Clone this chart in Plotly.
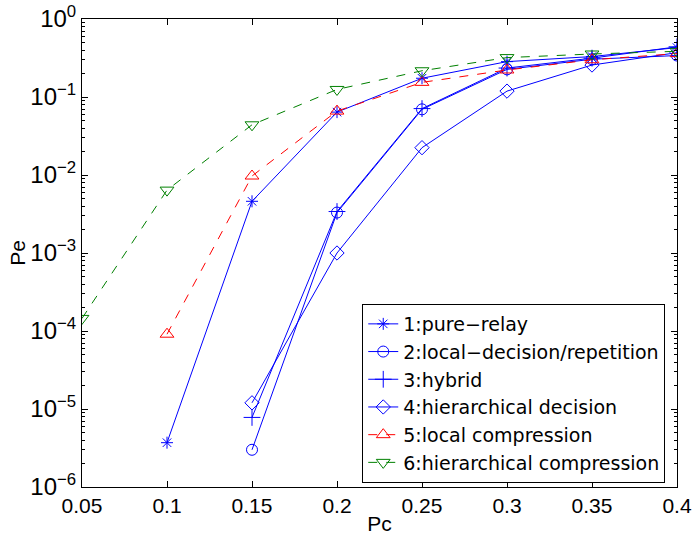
import plotly.graph_objects as go

pc = [0.05, 0.1, 0.15, 0.2, 0.25, 0.3, 0.35, 0.4]

names = ["1:pure\u2212relay", "2:local\u2212decision/repetition", "3:hybrid",
         "4:hierarchical decision", "5:local compression", "6:hierarchical compression"]

pure_relay = [None, 3.7e-6, 4.6e-3, 0.064, 0.174, 0.284, 0.33, 0.43]
local_decision = [None, None, 3.0e-6, 3.3e-3, 0.0695, 0.226, 0.305, 0.34]
hybrid = [None, None, 7.8e-6, 3.4e-3, 0.071, 0.235, 0.315, 0.44]
hier_decision = [None, None, 1.2e-5, 1.0e-3, 0.0224, 0.119, 0.257, 0.37]
local_comp = [None, 9.1e-5, 9.7e-3, 0.066, 0.154, 0.222, 0.30, 0.36]
hier_comp = [1.45e-4, 6.4e-3, 0.044, 0.125, 0.217, 0.32, 0.356, 0.385]

series = [pure_relay, local_decision, hybrid, hier_decision, local_comp, hier_comp]
colors = ["#0000FF", "#0000FF", "#0000FF", "#0000FF", "#FF0000", "#008000"]
symbols = ["asterisk-open", "circle-open", "cross-thin-open", "diamond-open",
           "triangle-up-open", "triangle-down-open"]
dashes = ["solid", "solid", "solid", "solid", "dash", "dash"]
sizes = [10, 11, 12, 11, 12, 12]

x_ticks = [0.05, 0.1, 0.15, 0.2, 0.25, 0.3, 0.35, 0.4]
x_ticktext = ["0.05", "0.1", "0.15", "0.2", "0.25", "0.3", "0.35", "0.4"]
y_exps = [-6, -5, -4, -3, -2, -1, 0]

fig = go.Figure()
for name, vals, c, s, d, sz in zip(names, series, colors, symbols, dashes, sizes):
    xs = [x for x, v in zip(pc, vals) if v is not None]
    ys = [v for v in vals if v is not None]
    fig.add_trace(go.Scatter(
        x=xs, y=ys, name=name, mode="lines+markers",
        line=dict(color=c, width=1, dash=d),
        marker=dict(symbol=s, size=sz, color=c, line=dict(color=c, width=1)),
    ))

y_tickvals = [10.0 ** e for e in y_exps]
y_ticktext = ["10<sup>%s</sup>" % (str(e).replace("-", "\u2212")) for e in y_exps]
minor_vals = [m * 10.0 ** e for e in y_exps[:-1] for m in range(2, 10)]

font = "Liberation Sans, Arial, Helvetica, sans-serif"
fig.update_layout(
    width=693, height=537,
    margin=dict(l=82, r=16, t=19, b=50),
    paper_bgcolor="white", plot_bgcolor="white",
    font=dict(family=font, size=21, color="black"),
    showlegend=True,
    legend=dict(x=0.471, y=0.391, xanchor="left", yanchor="top",
                bgcolor="white", bordercolor="black", borderwidth=1,
                font=dict(family="DejaVu Sans, sans-serif", size=19),
                tracegroupgap=0, itemwidth=30),
    xaxis=dict(range=[0.05, 0.4], tickvals=x_ticks, ticktext=x_ticktext,
               ticks="inside", ticklen=6, tickcolor="black", mirror="ticks",
               showline=True, linecolor="black", linewidth=1, showgrid=False,
               automargin=False, ticklabelstandoff=0,
               zeroline=False, title=dict(text="Pc", standoff=0, font=dict(size=21))),
    yaxis=dict(type="log", range=[-6, 0], tickvals=y_tickvals, ticktext=y_ticktext,
               tickfont=dict(size=24),
               ticks="inside", ticklen=6, tickcolor="black", mirror="ticks",
               showline=True, linecolor="black", linewidth=1, showgrid=False,
               automargin=False,
               zeroline=False,
               minor=dict(tickvals=minor_vals, ticks="inside", ticklen=3,
                          tickcolor="black", showgrid=False)),
    annotations=[dict(text="Pe", xref="paper", yref="paper", x=-0.1095, y=0.5,
                      xanchor="center", yanchor="middle", textangle=-90,
                      showarrow=False, font=dict(size=21))],
)

fig.write_html("out.html")
